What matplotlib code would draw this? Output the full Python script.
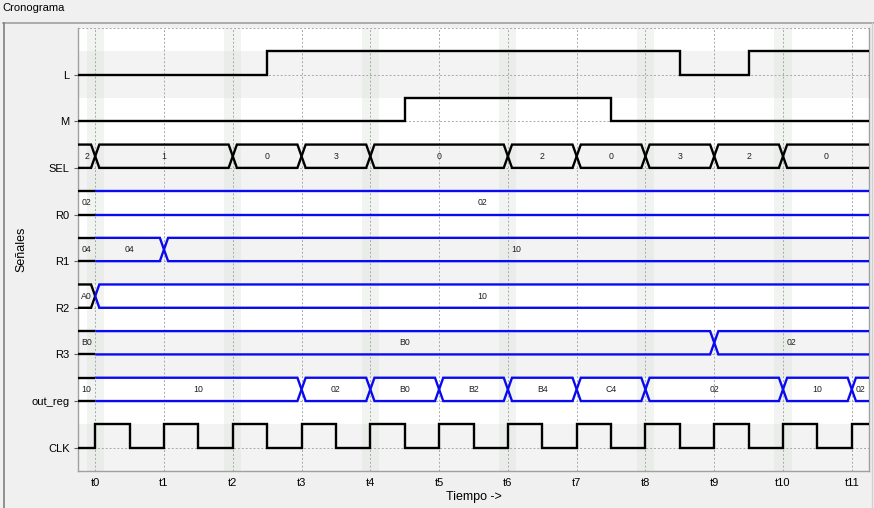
import matplotlib
matplotlib.use("Agg")
import matplotlib.pyplot as plt
from matplotlib.lines import Line2D

plt.rcParams['font.family'] = ['Liberation Sans', 'DejaVu Sans']

# ---------------- data ----------------
tick_labels = ['t0', 't1', 't2', 't3', 't4', 't5', 't6', 't7', 't8', 't9', 't10', 't11']
tick_pos = [0, 1, 2, 3, 4, 5, 6, 7, 8, 9, 10, 11]
row_names = ['CLK', 'out_reg', 'R3', 'R2', 'R1', 'R0', 'SEL', 'M', 'L']

t_start, t_end = -0.25, 11.25

L_times = [t_start, 2.5, 8.5, 9.5]
L_values = [0, 1, 0, 1]
M_times = [t_start, 4.5, 7.5]
M_values = [0, 1, 0]
CLK_times = [t_start, 0, 0.5, 1, 1.5, 2, 2.5, 3, 3.5, 4, 4.5, 5, 5.5,
             6, 6.5, 7, 7.5, 8, 8.5, 9, 9.5, 10, 10.5, 11]
CLK_values = [0, 1, 0, 1, 0, 1, 0, 1, 0, 1, 0, 1, 0,
              1, 0, 1, 0, 1, 0, 1, 0, 1, 0, 1]

SEL_times = [t_start, 0, 2, 3, 4, 6, 7, 8, 9, 10]
SEL_values = ['2', '1', '0', '3', '0', '2', '0', '3', '2', '0']
R0_times = [t_start, 0]
R0_values = ['02', '02']
R1_times = [t_start, 0, 1]
R1_values = ['04', '04', '10']
R2_times = [t_start, 0]
R2_values = ['A0', '10']
R3_times = [t_start, 0, 9]
R3_values = ['B0', 'B0', '02']
OUT_times = [t_start, 0, 3, 4, 5, 6, 7, 8, 10, 11]
OUT_values = ['10', '10', '02', 'B0', 'B2', 'B4', 'C4', '02', '10', '02']

stripe_times = [0, 2, 4, 6, 8, 10]

# ---------------- figure ----------------
fig = plt.figure(figsize=(8.74, 5.08), dpi=100, facecolor='#f0f0f0')
ax = fig.add_axes([78 / 874, 1 - 471 / 508, (869 - 78) / 874, (471 - 28) / 508])
ax.set_facecolor('white')
ax.set_xlim(t_start, t_end)
ax.set_ylim(-0.5, 9.0)

# background bands
for i in range(len(row_names)):
    col = '#f3f3f3' if i % 2 == 0 else '#ffffff'
    ax.axhspan(i - 0.5, i + 0.5, color=col, zorder=0, lw=0)
for t in stripe_times:
    ax.axvspan(t - 0.125, t + 0.125, color='#d3dbd3', alpha=0.28, zorder=0.5, lw=0)

# grid
gkw = dict(color='#a8a8a8', lw=0.7, ls=(0, (2, 2)), zorder=1)
for t in tick_pos:
    ax.axvline(t, **gkw)
for i in range(len(row_names)):
    ax.axhline(i, **gkw)
ax.axhline(9.0, **gkw)

LW = 1.7
BLUE = '#0a0af0'


def digital(times, values, row):
    xs = list(times) + [t_end]
    ys = [row + 0.5 * v for v in values] + [row + 0.5 * values[-1]]
    ax.step(xs, ys, where='post', color='black', lw=LW, zorder=3,
            solid_joinstyle='miter')


def bus(times, values, row, colors):
    d = 0.06
    lo, hi, mid = row, row + 0.5, row + 0.25
    n = len(times)
    for k in range(n):
        a = times[k]
        b = times[k + 1] if k + 1 < n else t_end
        tl = k > 0 and values[k] != values[k - 1]
        tr = k + 1 < n and values[k + 1] != values[k]
        for lev in (hi, lo):
            xs, ys = [], []
            if tl:
                xs.append(a); ys.append(mid)
            xs.append(a + d if tl else a); ys.append(lev)
            xs.append(b - d if tr else b); ys.append(lev)
            if tr:
                xs.append(b); ys.append(mid)
            ax.plot(xs, ys, color=colors[k], lw=LW, zorder=3,
                    solid_joinstyle='miter', solid_capstyle='butt')
        ax.text((a + b) / 2, mid, values[k], ha='center', va='center',
                fontsize=6.3, color='#202020', zorder=4)


digital(L_times, L_values, 8)
digital(M_times, M_values, 7)
digital(CLK_times, CLK_values, 0)
bus(SEL_times, SEL_values, 6, ['black'] * len(SEL_times))


def blue_cols(times):
    return ['black'] + [BLUE] * (len(times) - 1)


bus(R0_times, R0_values, 5, blue_cols(R0_times))
bus(R1_times, R1_values, 4, blue_cols(R1_times))
bus(R2_times, R2_values, 3, blue_cols(R2_times))
bus(R3_times, R3_values, 2, blue_cols(R3_times))
bus(OUT_times, OUT_values, 1, blue_cols(OUT_times))

# axes styling
ax.set_xticks(tick_pos)
ax.set_xticklabels(tick_labels, fontsize=8)
ax.set_yticks(range(len(row_names)))
ax.set_yticklabels(row_names, fontsize=8)
ax.tick_params(axis='both', length=3, width=0.8, color='#606060', pad=3)
ax.tick_params(axis='x', length=0, pad=5)
for s in ('left', 'bottom', 'right'):
    ax.spines[s].set_color('#a0a0a0')
    ax.spines[s].set_linewidth(1.0)
ax.spines['top'].set_visible(False)
ax.set_xlabel('Tiempo ->', fontsize=9)
ax.set_ylabel('Señales', fontsize=9)
ax.xaxis.set_label_coords(0.5, -0.045)
ax.yaxis.set_label_coords(-0.0645, 0.5)

# panel frame and title
fig.text(2 / 874, 1 - 8 / 508, 'Cronograma', fontsize=8, ha='left', va='center')
fig.add_artist(Line2D([3 / 874, 1], [1 - 23 / 508, 1 - 23 / 508],
                      color='#a0a0a0', lw=1.2, transform=fig.transFigure))
fig.add_artist(Line2D([3.5 / 874, 3.5 / 874], [0, 1 - 23 / 508],
                      color='#808080', lw=1.2, transform=fig.transFigure))
fig.add_artist(Line2D([871.5 / 874, 871.5 / 874], [0, 1 - 23 / 508],
                      color='#d0d0d0', lw=1.0, transform=fig.transFigure))

fig.savefig('out.png', dpi=100, facecolor=fig.get_facecolor())
